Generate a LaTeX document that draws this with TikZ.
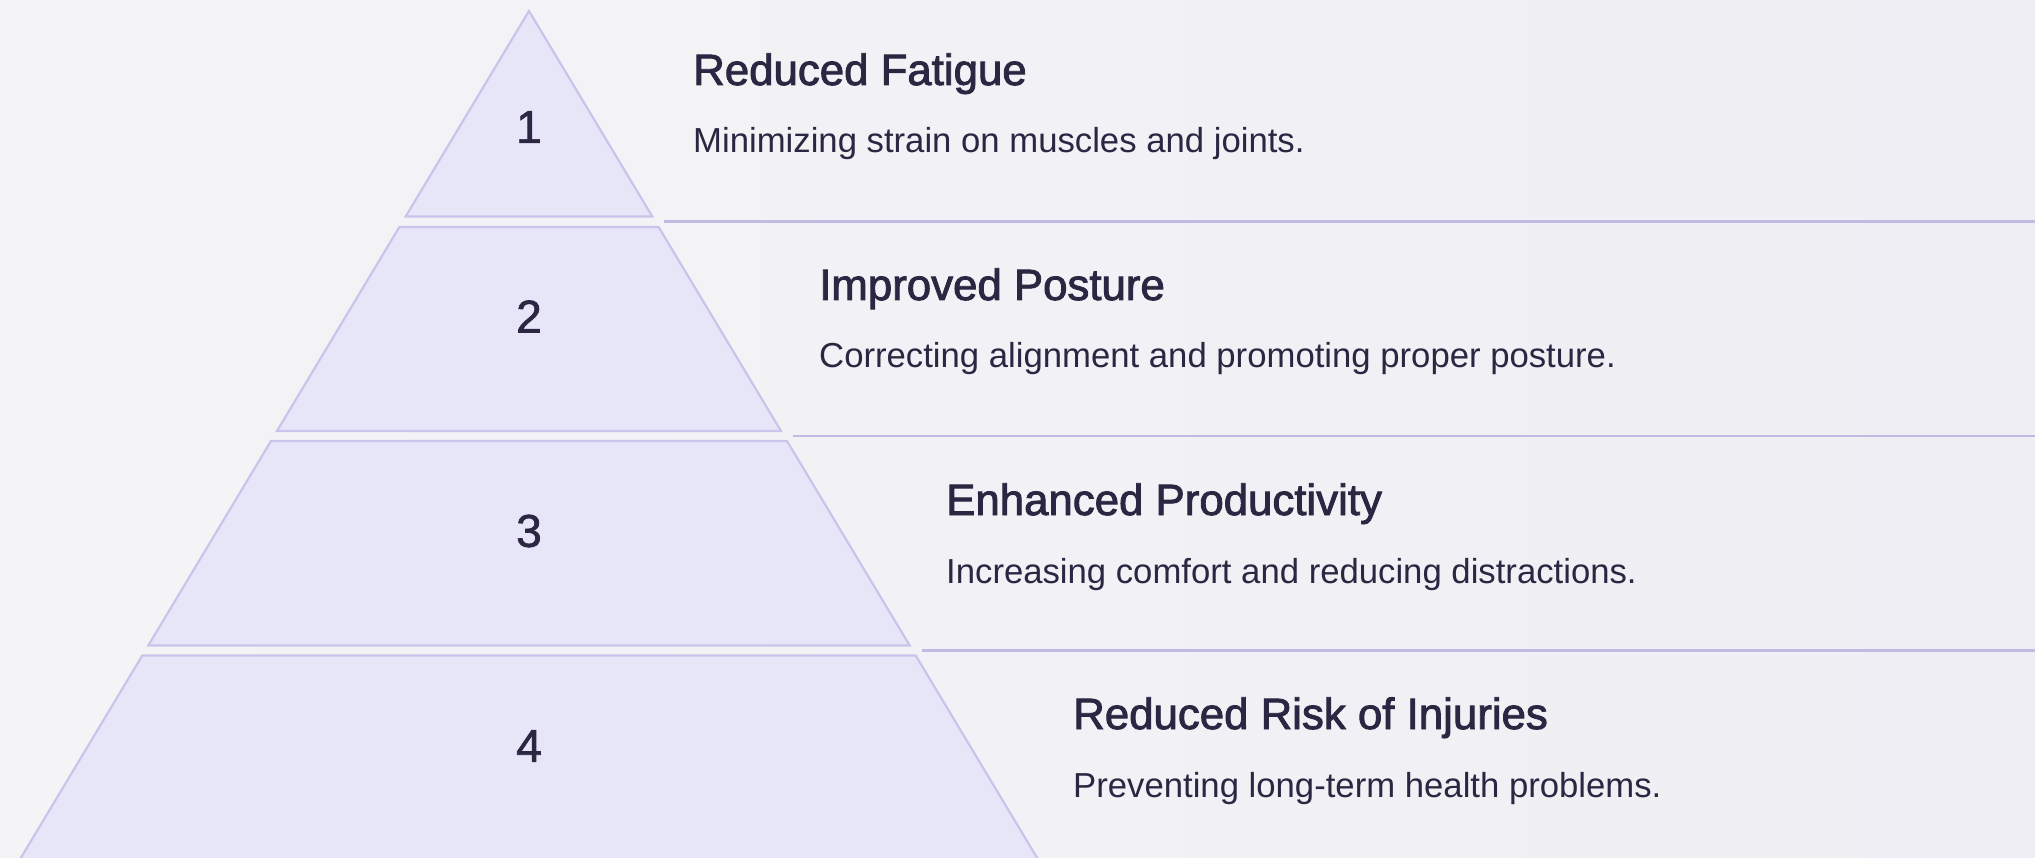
\documentclass[tikz,border=0pt]{standalone}
\usepackage{fontspec}
\setmainfont{Liberation Sans}
\newfontfamily\headfont[FakeBold=2]{Liberation Sans}
\newfontfamily\numfont[FakeBold=1.5]{Liberation Sans}
\usetikzlibrary{calc}

\definecolor{bgA}{HTML}{F6F6F8}
\definecolor{bgM}{HTML}{F2F1F5}
\definecolor{bgB}{HTML}{ECEBF2}
\definecolor{tierfill}{HTML}{E7E5F8}
\definecolor{tieredge}{HTML}{C9C5EA}
\definecolor{rulecol}{HTML}{C0BBE2}
\definecolor{ink}{HTML}{2B2742}

% soft backdrop running from the left edge to the right edge
\pgfdeclarehorizontalshading{backdrop}{100bp}{color(0bp)=(bgA); color(50bp)=(bgM); color(100bp)=(bgB)}

% apex of the pyramid and half-width growth per unit of height
\def\apx{529}
\def\apy{11}
\def\spread{0.6}

\tikzset{
  tier/.style={fill=tierfill, draw=tieredge, line width=2.2pt, line join=miter},
  divider/.style={draw=rulecol, line width=2.2pt},
  tiernum/.style={font=\numfont\fontsize{46}{46}\selectfont, text=ink, inner sep=0pt, anchor=center},
  heading/.style={font=\headfont\fontsize{43.8}{44}\selectfont, text=ink, inner sep=0pt, anchor=base west},
  blurb/.style={font=\fontsize{34.7}{35}\selectfont, text=ink, inner sep=0pt, anchor=base west},
}

% one band of the pyramid between heights #1 and #2, named #3
\newcommand{\pyrband}[3]{%
  \pgfmathsetmacro{\tl}{\apx-\spread*(#1-\apy)}%
  \pgfmathsetmacro{\tr}{\apx+\spread*(#1-\apy)}%
  \pgfmathsetmacro{\bl}{\apx-\spread*(#2-\apy)}%
  \pgfmathsetmacro{\br}{\apx+\spread*(#2-\apy)}%
  \coordinate (#3-tl) at (\tl,#1);
  \coordinate (#3-tr) at (\tr,#1);
  \coordinate (#3-bl) at (\bl,#2);
  \coordinate (#3-br) at (\br,#2);
  \path[tier] (#3-tl) -- (#3-tr) -- (#3-br) -- (#3-bl) -- cycle;
}

\begin{document}
\begin{tikzpicture}[x=1pt,y=-1pt]
  \useasboundingbox (0,0) rectangle (2035,858);
  \clip (0,0) rectangle (2035,858);
  \shade[shading=backdrop] (0,0) rectangle (2035,858);

  % pyramid bands
  \pyrband{11}{216.5}{t1}
  \pyrband{227}{431}{t2}
  \pyrband{441}{645.5}{t3}
  \pyrband{655.5}{880}{t4}

  % tier numbers
  \node[tiernum] (n1) at (\apx,127) {1};
  \node[tiernum] (n2) at (\apx,316.5) {2};
  \node[tiernum] (n3) at (\apx,531) {3};
  \node[tiernum] (n4) at (\apx,746) {4};

  % dividers running from each band to the right edge
  \coordinate (e1) at (2035,221.5);
  \coordinate (e2) at (2035,436);
  \coordinate (e3) at (2035,650.5);
  \draw[divider] ($(t1-br)+(12,5)$) -- (e1);
  \draw[divider] ($(t2-br)+(12,5)$) -- (e2);
  \draw[divider] ($(t3-br)+(12,5)$) -- (e3);

  % headings and descriptions
  \node[heading] (h1) at (693,85) {Reduced Fatigue};
  \node[blurb]   (d1) at (693,153) {Minimizing strain on muscles and joints.};
  \node[heading] (h2) at (819,300) {Improved Posture};
  \node[blurb]   (d2) at (819,368) {Correcting alignment and promoting proper posture.};
  \node[heading] (h3) at (946,515) {Enhanced Productivity};
  \node[blurb]   (d3) at (946,583) {Increasing comfort and reducing distractions.};
  \node[heading] (h4) at (1073,729) {Reduced Risk of Injuries};
  \node[blurb]   (d4) at (1073,797) {Preventing long-term health problems.};
\end{tikzpicture}
\end{document}
